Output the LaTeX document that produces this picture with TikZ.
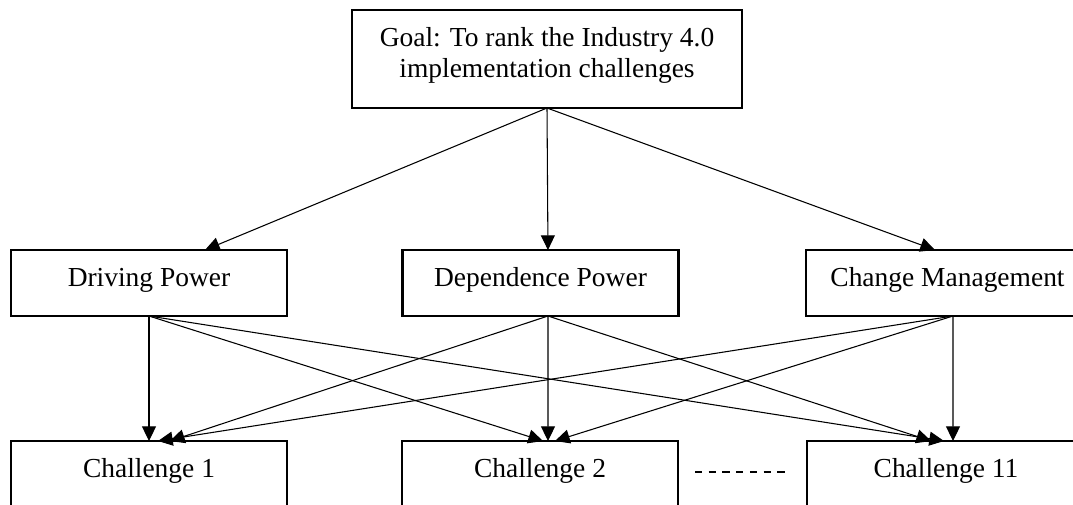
\documentclass[tikz,border=0pt]{standalone}
\usepackage{fontspec}
\setmainfont{Liberation Serif}
\usetikzlibrary{arrows.meta}

\begin{document}
\begin{tikzpicture}[x=0.75pt,y=-0.75pt,
    box/.style={draw=black,line width=2pt,outer sep=0pt,inner sep=0pt,
      font=\fontsize{20.6}{23.25}\selectfont},
    onebox/.style={box,minimum width=207pt,minimum height=49.5pt,
      text height=14pt,text depth=9pt},
    link/.style={line width=0.8pt,-{Triangle[length=11pt,width=10.5pt]}}]

    \useasboundingbox (0,0) rectangle (1073,504);

    % goal
    \node[box,align=center,minimum width=292.5pt,minimum height=73.5pt,
      text depth=10pt] (goal) at (547,59)
    {Goal: To rank the Industry 4.0\\
      implementation challenges};

    % criteria
    \node[onebox] (dp) at (149,283) {Driving Power};
    \node[onebox] (dep) at (540.5,283) {Dependence Power};
    \node[onebox,minimum width=212.25pt] (cm) at (947.5,283) {Change Management};

    % challenges
    \node[onebox] (c1) at (149,474) {Challenge 1};
    \node[onebox] (c2) at (540,474) {Challenge 2};
    \node[onebox,minimum width=208.5pt] (c11) at (946,474) {Challenge 11};

    \draw[line width=1pt,dash pattern=on 5.4pt off 4.9pt]
    ([xshift=12.75pt,yshift=1.5pt]c2.east) -- ([xshift=-14.25pt,yshift=1.5pt]c11.west);

    % goal to criteria
    \draw[link] (goal.south) -- ([xshift=42pt]dp.north);
    \draw[link] (goal.south) -- ([xshift=5.6pt]dep.north);
    \draw[link] (goal.south) -- ([xshift=-9.4pt]cm.north);

    % criteria to challenges
    \draw[link] (dp.south) -- (c1.north);
    \draw[link] (dp.south) -- ([xshift=2.25pt]c2.north);
    \draw[link] (dp.south) -- ([xshift=-1.5pt]c11.north);

    \draw[link] ([xshift=5.6pt]dep.south) -- ([xshift=15.75pt]c1.north);
    \draw[link] ([xshift=5.6pt]dep.south) -- ([xshift=6pt]c2.north);
    \draw[link] ([xshift=5.6pt]dep.south) -- ([xshift=-11.25pt]c11.north);

    \draw[link] ([xshift=4.1pt]cm.south) -- ([xshift=6.75pt]c1.north);
    \draw[link] ([xshift=4.1pt]cm.south) -- ([xshift=11.25pt]c2.north);
    \draw[link] ([xshift=4.1pt]cm.south) -- ([xshift=5.25pt]c11.north);

  \end{tikzpicture}
\end{document}
